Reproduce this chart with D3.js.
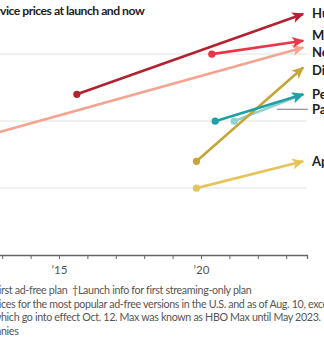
<!DOCTYPE html>
<html>
<head>
<meta charset="utf-8">
<script src="https://d3js.org/d3.v7.min.js"></script>
<style>
  body { margin: 0; background: #fff; font-family: Lato, "Noto Sans", Arial, sans-serif; }
  svg { display: block; overflow: hidden; }
</style>
</head>
<body>
<svg id="chart" width="324" height="348"></svg>
<script>
// streaming services, launch date/price and current price
var services   = ["Hulu*", "Max", "Netflix\u2020", "Disney+", "Peacock", "Paramount+", "Apple TV+"];
var launchYear = [2015.63, 2020.38, 2010.9, 2019.84, 2020.5, 2021.17, 2019.84];
var launchUsd  = [11.99, 14.99, 7.99, 6.99, 9.99, 9.99, 4.99];
var nowYear    = [2023.6, 2023.6, 2023.6, 2023.6, 2023.6, 2023.6, 2023.6];
var nowUsd     = [17.99, 15.99, 15.49, 13.99, 11.99, 11.99, 6.99];
var yTicks     = [0, 5, 10, 15, 20];
var xLabelled  = [2015, 2020];

var colors = {
  "Hulu*": "#b3232f", "Max": "#ea3547", "Netflix\u2020": "#f6a390",
  "Disney+": "#c6a636", "Peacock": "#1fa0a4", "Paramount+": "#8fd2d2", "Apple TV+": "#e5c55b"
};
// vertical nudges for the end labels so they don't collide
var labelNudge = { "Max": -5, "Netflix\u2020": 5, "Disney+": 3, "Paramount+": 15 };
var drawOrder = ["Netflix\u2020", "Hulu*", "Max", "Apple TV+", "Paramount+", "Disney+", "Peacock"];

var svg = d3.select("#chart");
var plotRight = 307;

var x = d3.scaleLinear().domain([2015, 2020]).range([59, 201]);
var y = d3.scaleLinear().domain([0, 15]).range([255, 54]);

var rows = services.map(function(s, i) {
  return { name: s, x0: launchYear[i], y0: launchUsd[i], x1: nowYear[i], y1: nowUsd[i] };
});
var byName = {};
rows.forEach(function(r) { byName[r.name] = r; });

// title, cut at the left edge
var title = svg.append("text")
  .attr("y", 14.5)
  .style("font-size", "12.2px").style("font-weight", "700").style("fill", "#222")
  .style("letter-spacing", "-0.5px")
  .text("Streaming-service prices at launch and now");
title.attr("x", -title.node().getSubStringLength(0, "Streaming-ser".length));

// grid
svg.append("g").selectAll("line")
  .data(yTicks.filter(function(d) { return d > 0; }))
  .enter().append("line")
  .attr("x1", -400).attr("x2", plotRight)
  .attr("y1", function(d) { return y(d); }).attr("y2", function(d) { return y(d); })
  .attr("stroke", "#e2e2e2").attr("stroke-width", 1);

// x axis
var years = d3.range(2005, 2024);
var axis = d3.axisBottom(x)
  .tickValues(years)
  .tickSize(4)
  .tickFormat(function(d) { return xLabelled.indexOf(d) >= 0 ? "\u2019" + String(d).slice(2) : ""; });
var xScaleAxis = x.copy().domain([2005, x.invert(plotRight)]).range([x(2005), plotRight]);
var gx = svg.append("g").attr("transform", "translate(0," + y(0) + ")").call(axis.scale(xScaleAxis));
gx.select(".domain").attr("stroke", "#666").attr("stroke-width", 1.3);
gx.selectAll(".tick line").attr("stroke", "#666");
gx.selectAll(".tick text").attr("dy", "1.05em")
  .style("font-size", "11.5px").style("fill", "#555").style("font-family", "Lato, 'Noto Sans', sans-serif");

// arrowheads, one per colour
var defs = svg.append("defs");
rows.forEach(function(r, i) {
  defs.append("marker")
    .attr("id", "arrow" + i)
    .attr("markerUnits", "userSpaceOnUse")
    .attr("viewBox", "-12 -6 14 12")
    .attr("markerWidth", 14).attr("markerHeight", 12)
    .attr("refX", 0).attr("refY", 0)
    .attr("orient", "auto")
    .append("path")
    .attr("d", "M1,0 L-11,-5.5 L-8,0 L-11,5.5 Z")
    .attr("fill", colors[r.name]);
});

var marks = svg.append("g");
drawOrder.forEach(function(name) {
  var r = byName[name], i = services.indexOf(name);
  var g = marks.append("g");
  g.append("line")
    .attr("x1", x(r.x0)).attr("y1", y(r.y0))
    .attr("x2", x(r.x1)).attr("y2", y(r.y1))
    .attr("stroke", colors[name]).attr("stroke-width", 2.6)
    .attr("marker-end", "url(#arrow" + i + ")");
  g.append("circle")
    .attr("cx", x(r.x0)).attr("cy", y(r.y0)).attr("r", 3.6)
    .attr("fill", colors[name]);
});

// end labels
var labelX = 312;
rows.forEach(function(r) {
  var ly = y(r.y1) + (labelNudge[r.name] || 0);
  svg.append("text")
    .attr("x", labelX).attr("y", ly).attr("dy", "0.35em")
    .style("font-size", "13px").style("font-weight", "700").style("fill", "#222")
    .text(r.name);
  if (r.name === "Paramount+") {
    svg.append("line")
      .attr("x1", 277).attr("x2", labelX - 4)
      .attr("y1", ly).attr("y2", ly)
      .attr("stroke", "#999").attr("stroke-width", 1.3);
  }
});

// footnotes; each line shows from the given fragment onward
var notes = [
  ["*Launch info for first ad-free plan  \u2020Launch info for first streaming-only plan", "rst ad-free"],
  ["Note: Prices for the most popular ad-free versions in the U.S. and as of Aug. 10, except for Disney+ prices,", "ces for"],
  ["which go into effect Oct. 12. Max was known as HBO Max until May 2023.", "hich go"],
  ["Source: the companies", "nies"]
];
notes.forEach(function(n, k) {
  var t = svg.append("text")
    .attr("y", 294 + k * 13.6)
    .style("font-size", "10.7px").style("fill", "#555")
    .style("letter-spacing", "-0.33px")
    .style("white-space", "pre")
    .text(n[0]);
  var cut = n[0].indexOf(n[1]);
  t.attr("x", 1 - t.node().getSubStringLength(0, cut));
});
</script>
</body>
</html>
